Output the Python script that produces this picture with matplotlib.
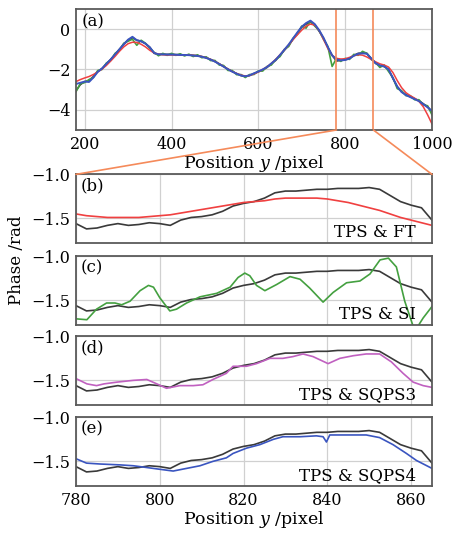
import numpy as np
import matplotlib
matplotlib.use("Agg")
import matplotlib.pyplot as plt
from matplotlib.patches import ConnectionPatch

plt.rcParams["font.family"] = ["DejaVu Serif"]
plt.rcParams["mathtext.fontset"] = "dejavuserif"
plt.rcParams["font.size"] = 11.5

# ---- panel (a): full profile, one sample every 10 pixels ----
x_a = np.arange(180, 1001, 10)
tps_a = [-3.05, -2.75, -2.6, -2.55, -2.35, -2.1, -1.95, -1.72, -1.5, -1.25,
         -1.0, -0.75, -0.55, -0.42, -0.55, -0.6, -0.72, -0.9, -1.2, -1.25,
         -1.25, -1.25, -1.25, -1.26, -1.27, -1.28, -1.28, -1.3, -1.32, -1.36,
         -1.42, -1.5, -1.6, -1.72, -1.85, -1.98, -2.1, -2.2, -2.3, -2.35,
         -2.3, -2.2, -2.12, -2.02, -1.9, -1.72, -1.55, -1.3, -1.05, -0.8,
         -0.5, -0.2, 0.1, 0.25, 0.35, 0.2, -0.1, -0.45, -0.9, -1.3,
         -1.58, -1.55, -1.52, -1.45, -1.3, -1.2, -1.18, -1.2, -1.45, -1.7,
         -1.82, -1.85, -2.0, -2.45, -2.85, -3.1, -3.25, -3.35, -3.45, -3.55,
         -3.7, -3.85, -4.1]
ft_a = [-2.6, -2.5, -2.42, -2.35, -2.25, -2.12, -1.98, -1.8, -1.58, -1.35,
        -1.1, -0.88, -0.72, -0.65, -0.66, -0.75, -0.88, -1.05, -1.18, -1.24,
        -1.27, -1.28, -1.28, -1.28, -1.28, -1.28, -1.29, -1.3, -1.32, -1.36,
        -1.42, -1.5, -1.6, -1.72, -1.85, -1.98, -2.1, -2.2, -2.28, -2.32,
        -2.3, -2.22, -2.12, -2.0, -1.87, -1.7, -1.5, -1.27, -1.02, -0.78,
        -0.52, -0.28, -0.05, 0.15, 0.25, 0.2, -0.05, -0.5, -0.95, -1.3,
        -1.45, -1.48, -1.47, -1.4, -1.32, -1.27, -1.29, -1.38, -1.5, -1.62,
        -1.72, -1.78, -1.88, -2.15, -2.55, -2.9, -3.15, -3.3, -3.42, -3.58,
        -3.85, -4.25, -4.7]
si_a = [-3.1, -2.7, -2.65, -2.5, -2.4, -2.05, -2.0, -1.68, -1.55, -1.2,
        -1.05, -0.7, -0.6, -0.5, -0.8, -0.55, -0.7, -0.95, -1.15, -1.32,
        -1.2, -1.3, -1.2, -1.3, -1.22, -1.33, -1.24, -1.36, -1.27, -1.42,
        -1.37, -1.56, -1.55, -1.78, -1.8, -2.05, -2.05, -2.26, -2.25, -2.4,
        -2.25, -2.25, -2.07, -2.08, -1.85, -1.78, -1.5, -1.36, -1.0, -0.86,
        -0.45, -0.26, 0.15, 0.05, 0.4, 0.15, -0.05, -0.5, -0.85, -1.85,
        -1.45, -1.6, -1.45, -1.5, -1.25, -1.3, -1.1, -1.2, -1.5, -1.65,
        -1.9, -1.78, -2.1, -2.4, -2.95, -3.05, -3.3, -3.3, -3.5, -3.5,
        -3.75, -3.8, -4.25]
sq4_a = [-2.72, -2.66, -2.6, -2.62, -2.4, -2.12, -1.95, -1.72, -1.5, -1.25,
         -1.0, -0.75, -0.52, -0.38, -0.55, -0.6, -0.72, -0.9, -1.18, -1.25,
         -1.25, -1.26, -1.26, -1.27, -1.28, -1.28, -1.29, -1.31, -1.33, -1.37,
         -1.43, -1.51, -1.61, -1.73, -1.86, -1.99, -2.11, -2.21, -2.3, -2.34,
         -2.29, -2.19, -2.1, -2.0, -1.88, -1.7, -1.52, -1.28, -1.02, -0.76,
         -0.46, -0.16, 0.12, 0.3, 0.42, 0.25, -0.05, -0.42, -0.88, -1.3,
         -1.5, -1.55, -1.53, -1.46, -1.32, -1.22, -1.2, -1.22, -1.45, -1.68,
         -1.8, -1.85, -2.0, -2.42, -2.85, -3.12, -3.27, -3.37, -3.47, -3.57,
         -3.72, -3.88, -4.05]

# ---- panels (b)-(e): zoom 780-865 ----
x_z = np.arange(780, 865.1, 2.5)
tps_z = [-1.56, -1.62, -1.61, -1.58, -1.56, -1.58, -1.57, -1.55, -1.56, -1.58,
         -1.52, -1.49, -1.48, -1.46, -1.42, -1.36, -1.33, -1.31, -1.27, -1.21,
         -1.19, -1.19, -1.18, -1.17, -1.17, -1.16, -1.16, -1.16, -1.15, -1.17,
         -1.24, -1.31, -1.35, -1.38, -1.52]
ft_z = [-1.45, -1.47, -1.48, -1.49, -1.49, -1.49, -1.49, -1.48, -1.47, -1.46,
        -1.44, -1.42, -1.4, -1.38, -1.36, -1.34, -1.32, -1.31, -1.3, -1.28,
        -1.27, -1.27, -1.27, -1.27, -1.28, -1.3, -1.32, -1.35, -1.38, -1.41,
        -1.45, -1.49, -1.52, -1.55, -1.58]

x_si = [780, 782.6, 784.9, 787.3, 789.3, 790.9, 792.9, 795.3, 797.3, 798.5,
        800, 802.4, 804, 806.4, 809.6, 813.6, 816.8, 818.7, 820.3, 821.5,
        823.1, 825.1, 827.9, 831.1, 833.5, 835.8, 839, 841.4, 844.6, 847.8,
        850.2, 852.6, 854.6, 856.5, 858.5, 860.9, 862.9, 865]
si_z = [-1.71, -1.72, -1.60, -1.53, -1.53, -1.55, -1.51, -1.39, -1.33, -1.35,
        -1.47, -1.62, -1.60, -1.53, -1.46, -1.42, -1.35, -1.24, -1.19, -1.22,
        -1.33, -1.39, -1.32, -1.23, -1.26, -1.36, -1.52, -1.41, -1.30, -1.28,
        -1.20, -1.04, -1.02, -1.12, -1.51, -1.85, -1.70, -1.57]

x_sq3 = [780, 782.6, 784.9, 786.7, 789.8, 793.7, 796.9, 799.3, 801.6, 804.8,
         808, 810.3, 812.7, 815.9, 817.5, 820.7, 823.1, 826.3, 829.4, 831.8,
         834.2, 836.6, 840.2, 843, 846.2, 849.3, 852.5, 855.3, 858.1, 860.5,
         862.9, 865]
sq3_z = [-1.48, -1.54, -1.56, -1.54, -1.52, -1.50, -1.49, -1.54, -1.59, -1.56,
         -1.56, -1.55, -1.49, -1.42, -1.34, -1.34, -1.31, -1.25, -1.25, -1.23,
         -1.20, -1.23, -1.31, -1.25, -1.22, -1.20, -1.20, -1.29, -1.42, -1.52,
         -1.56, -1.58]

x_sq4 = [780, 782.5, 785.7, 790.5, 793.7, 796.9, 800, 803.2, 806.4, 809.6,
         812.7, 815.9, 817.5, 820.7, 823.9, 827.1, 829.4, 833.5, 837.4, 839,
         839.8, 840.6, 844.6, 849.3, 852.5, 855.7, 858.9, 861.3, 865]
sq4_z = [-1.47, -1.52, -1.53, -1.54, -1.55, -1.57, -1.59, -1.61, -1.58, -1.55,
         -1.50, -1.46, -1.41, -1.35, -1.31, -1.25, -1.22, -1.22, -1.21, -1.22,
         -1.28, -1.20, -1.20, -1.20, -1.23, -1.31, -1.41, -1.49, -1.58]

panel_tags = ["(b)", "(c)", "(d)", "(e)"]
method_names = ["TPS & FT", "TPS & SI", "TPS & SQPS3", "TPS & SQPS4"]
zoom_lo, zoom_hi = 780, 865

c_tps = "#3a3a3a"
c_ft = "#f04040"
c_si = "#44a040"
c_sq3 = "#c060c0"
c_sq4 = "#3a55c0"
c_link = "#f58a5a"
c_spine = "#5a5a5a"
c_grid = "#d0d0d0"


def style(ax):
    for s in ax.spines.values():
        s.set_color(c_spine)
        s.set_linewidth(1.3)
    ax.tick_params(length=0, pad=4, labelsize=11.5)
    ax.grid(True, color=c_grid, lw=0.9)
    ax.set_axisbelow(True)


fig = plt.figure(figsize=(4.59, 5.34), dpi=100)

ax_a = fig.add_axes([0.1656, 0.7566, 0.7755, 0.2266])
style(ax_a)
ax_a.plot(x_a, tps_a, color=c_tps, lw=1.2)
ax_a.plot(x_a, si_a, color=c_si, lw=1.2)
ax_a.plot(x_a, ft_a, color=c_ft, lw=1.1)
ax_a.plot(x_a, sq4_a, color=c_sq4, lw=1.4)
ax_a.axvline(zoom_lo, color=c_link, lw=1.2)
ax_a.axvline(zoom_hi, color=c_link, lw=1.2)
ax_a.set_xlim(180, 1000)
ax_a.set_ylim(-5, 1)
ax_a.set_xticks([200, 400, 600, 800, 1000])
ax_a.set_yticks([0, -2, -4])
ax_a.set_xlabel("Position $y$ /pixel", labelpad=0, fontsize=12.5)
ax_a.text(0.015, 0.96, "(a)", transform=ax_a.transAxes, va="top", ha="left",
          fontsize=12)

bottoms = [0.545, 0.3914, 0.2416, 0.0899]
xs = [x_z, x_si, x_sq3, x_sq4]
others = [ft_z, si_z, sq3_z, sq4_z]
colors = [c_ft, c_si, c_sq3, c_sq4]
axes_z = []
for i in range(4):
    ax = fig.add_axes([0.1656, bottoms[i], 0.7755, 0.1285])
    style(ax)
    ax.plot(x_z, tps_z, color=c_tps, lw=1.2)
    ax.plot(xs[i], others[i], color=colors[i], lw=1.2)
    ax.set_xlim(zoom_lo, zoom_hi)
    ax.set_ylim(-1.78, -1.0)
    ax.set_xticks([780, 800, 820, 840, 860])
    ax.set_yticks([-1.0, -1.5])
    ax.set_yticklabels(["\u22121.0", "\u22121.5"])
    if i < 3:
        ax.set_xticklabels([])
    ax.text(0.012, 0.95, panel_tags[i], transform=ax.transAxes, va="top",
            ha="left", fontsize=12)
    ax.text(0.955, 0.03, method_names[i], transform=ax.transAxes, va="bottom",
            ha="right", fontsize=12)
    axes_z.append(ax)

axes_z[-1].set_xlabel("Position $y$ /pixel", labelpad=0, fontsize=12.5)

for xa in [zoom_lo, zoom_hi]:
    con = ConnectionPatch(xyA=(xa, -5), coordsA=ax_a.transData,
                          xyB=(xa, -1.0), coordsB=axes_z[0].transData,
                          color=c_link, lw=1.2)
    fig.add_artist(con)

fig.text(0.037, 0.513, "Phase /rad", rotation=90, ha="center", va="center",
         fontsize=12)

fig.savefig("out.png", dpi=100)
